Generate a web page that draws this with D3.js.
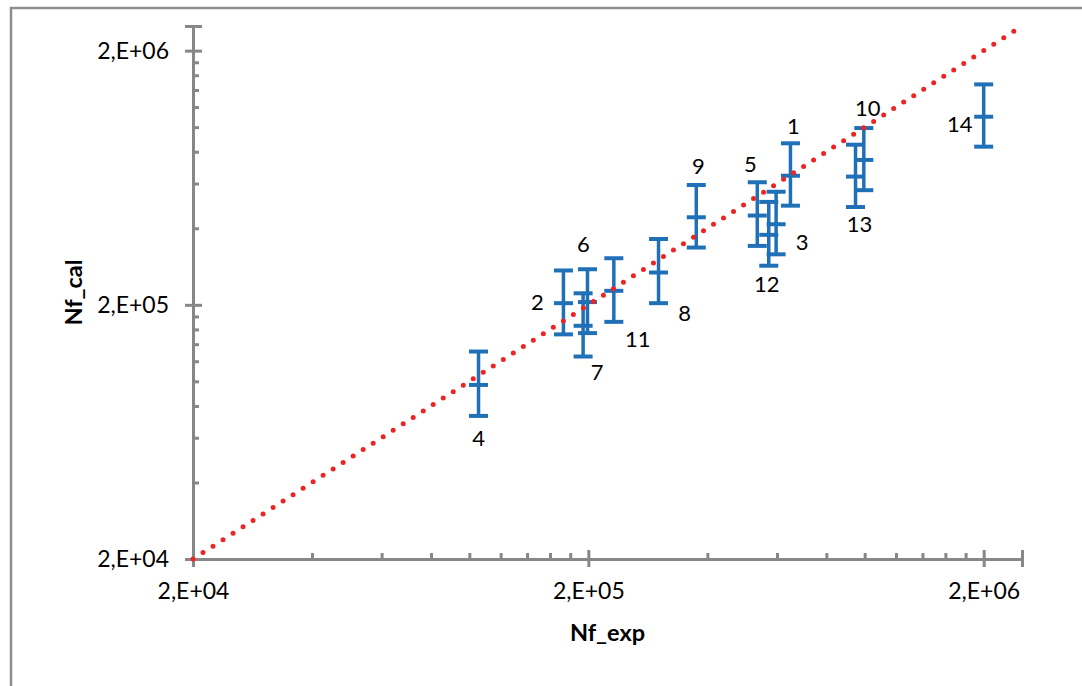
<!DOCTYPE html>
<html>
<head>
<meta charset="utf-8">
<script src="https://cdn.jsdelivr.net/npm/d3@7"></script>
<style>
  body { margin: 0; background: #fff; }
  svg { display: block; }
  text { font-family: Lato, "Open Sans", "Liberation Sans", sans-serif; fill: #000; }
</style>
</head>
<body>
<div id="chart"></div>
<script>
// values
const pointIds = ['1', '2', '3', '4', '5', '6', '7', '8', '9', '10', '11', '12', '13', '14']
const nfExp = [6.49e5, 1.73e5, 5.97e5, 1.055e5, 5.35e5, 1.99e5, 1.94e5, 3.01e5, 3.75e5, 9.95e5, 2.32e5, 5.72e5, 9.48e5, 2.0e6]
const nfCal = [6.44e5, 2.03e5, 4.15e5, 9.68e4, 4.49e5, 2.05e5, 1.654e5, 2.68e5, 4.42e5, 7.43e5, 2.27e5, 3.77e5, 6.39e5, 1.099e6]
const nfCalHigh = [8.64e5, 2.73e5, 5.57e5, 1.31e5, 6.07e5, 2.76e5, 2.22e5, 3.63e5, 5.92e5, 9.92e5, 3.05e5, 5.08e5, 8.53e5, 1.473e6]
const nfCalLow = [4.91e5, 1.53e5, 3.16e5, 7.31e4, 3.41e5, 1.548e5, 1.252e5, 2.03e5, 3.36e5, 5.65e5, 1.714e5, 2.85e5, 4.85e5, 8.38e5]

const axisMin = 2e4, axisMax = 2.5e6
const majorTicks = [2e4, 2e5, 2e6]
const majorTickLabels = ['2,E+04', '2,E+05', '2,E+06']
const minorTicks = [4e4, 6e4, 8e4, 1e5, 1.2e5, 1.4e5, 1.6e5, 1.8e5,
    4e5, 6e5, 8e5, 1e6, 1.2e6, 1.4e6, 1.6e6, 1.8e6, 2.5e6]
const identityLine = [axisMin, axisMax]

// label placement (pixels from the point)
const labelNudge = [[3, -50], [-26, -2], [26, 17], [0, 53], [-7, -52], [-4, -59], [14, 46],
    [26, 40], [2, -52], [4, -52], [24, 48], [-2, 49], [4, 47], [-24, 7]]

function draw_chart() {
    const width = 1082, height = 686
    const plot = {'left': 193, 'right': 1022, 'top': 26, 'bottom': 559}
    const axisColor = '#878787'
    const barColor = '#2070b8'

    const svg = d3.select('#chart').append('svg')
        .attr('width', width).attr('height', height)

    // outer chart frame
    svg.append('rect')
        .attr('x', 11).attr('y', 8).attr('width', 1200).attr('height', 800)
        .attr('fill', 'none').attr('stroke', '#8e8e8e').attr('stroke-width', 2.5)

    const x = d3.scaleLog().domain([axisMin, axisMax]).range([plot.left, plot.right])
    const y = d3.scaleLog().domain([axisMin, axisMax]).range([plot.bottom, plot.top])

    const points = pointIds.map((id, i) => ({
        'id': id, 'exp': nfExp[i], 'cal': nfCal[i],
        'lo': nfCalLow[i], 'hi': nfCalHigh[i], 'nudge': labelNudge[i]
    }))

    // axes
    const yAxis = svg.append('g').attr('transform', `translate(${plot.left},0)`)
    yAxis.call(d3.axisLeft(y).tickValues(majorTicks).tickSize(8).tickPadding(16)
        .tickFormat((d, i) => majorTickLabels[i]))
    yAxis.append('g').call(d3.axisRight(y).tickValues(majorTicks).tickSize(9).tickFormat(''))
    yAxis.append('g').call(d3.axisRight(y).tickValues(minorTicks).tickSize(6).tickFormat(''))

    const xAxis = svg.append('g').attr('transform', `translate(0,${plot.bottom})`)
    xAxis.call(d3.axisBottom(x).tickValues(majorTicks).tickSize(8).tickPadding(16)
        .tickFormat((d, i) => majorTickLabels[i]))
    xAxis.append('g').call(d3.axisTop(x).tickValues(majorTicks).tickSize(9).tickFormat(''))
    xAxis.append('g').call(d3.axisTop(x).tickValues(minorTicks).tickSize(6).tickFormat(''))

    svg.selectAll('.domain').attr('stroke', axisColor).attr('stroke-width', 3)
    svg.selectAll('.tick line').attr('stroke', axisColor).attr('stroke-width', 3)
    svg.selectAll('.tick text').style('font-size', '23px').attr('fill', '#000')

    // axis titles
    svg.append('text')
        .attr('x', (plot.left + plot.right) / 2).attr('y', 641)
        .attr('text-anchor', 'middle')
        .style('font-size', '23.5px').style('font-weight', 'bold')
        .text('Nf_exp')
    svg.append('text')
        .attr('transform', `translate(82,${(plot.top + plot.bottom) / 2}) rotate(-90)`)
        .attr('text-anchor', 'middle')
        .style('font-size', '23.5px').style('font-weight', 'bold')
        .text('Nf_cal')

    // error bars
    const capW = 19
    const bars = svg.append('g').selectAll('g').data(points).join('g')
        .attr('stroke', barColor).attr('fill', 'none')
    bars.append('line')
        .attr('x1', d => x(d.exp)).attr('x2', d => x(d.exp))
        .attr('y1', d => y(d.hi)).attr('y2', d => y(d.lo))
        .attr('stroke-width', 3.5)
    bars.selectAll('line.cap').data(d => [d.hi, d.cal, d.lo].map(v => ({'x': d.exp, 'v': v})))
        .join('line').attr('class', 'cap')
        .attr('x1', d => x(d.x) - capW / 2).attr('x2', d => x(d.x) + capW / 2)
        .attr('y1', d => y(d.v)).attr('y2', d => y(d.v))
        .attr('stroke-width', 4)

    // y = x dotted line
    svg.append('path')
        .datum(identityLine)
        .attr('d', d3.line().x(d => x(d)).y(d => y(d)))
        .attr('stroke', '#ee2424').attr('stroke-width', 5)
        .attr('stroke-linecap', 'round').attr('stroke-dasharray', '0 11.9')
        .attr('fill', 'none')

    // point labels
    svg.append('g').selectAll('text').data(points).join('text')
        .attr('x', d => x(d.exp) + d.nudge[0])
        .attr('y', d => y(d.cal) + d.nudge[1])
        .attr('text-anchor', 'middle').attr('dominant-baseline', 'central')
        .style('font-size', '22px')
        .text(d => d.id)
}

draw_chart()
</script>
</body>
</html>
